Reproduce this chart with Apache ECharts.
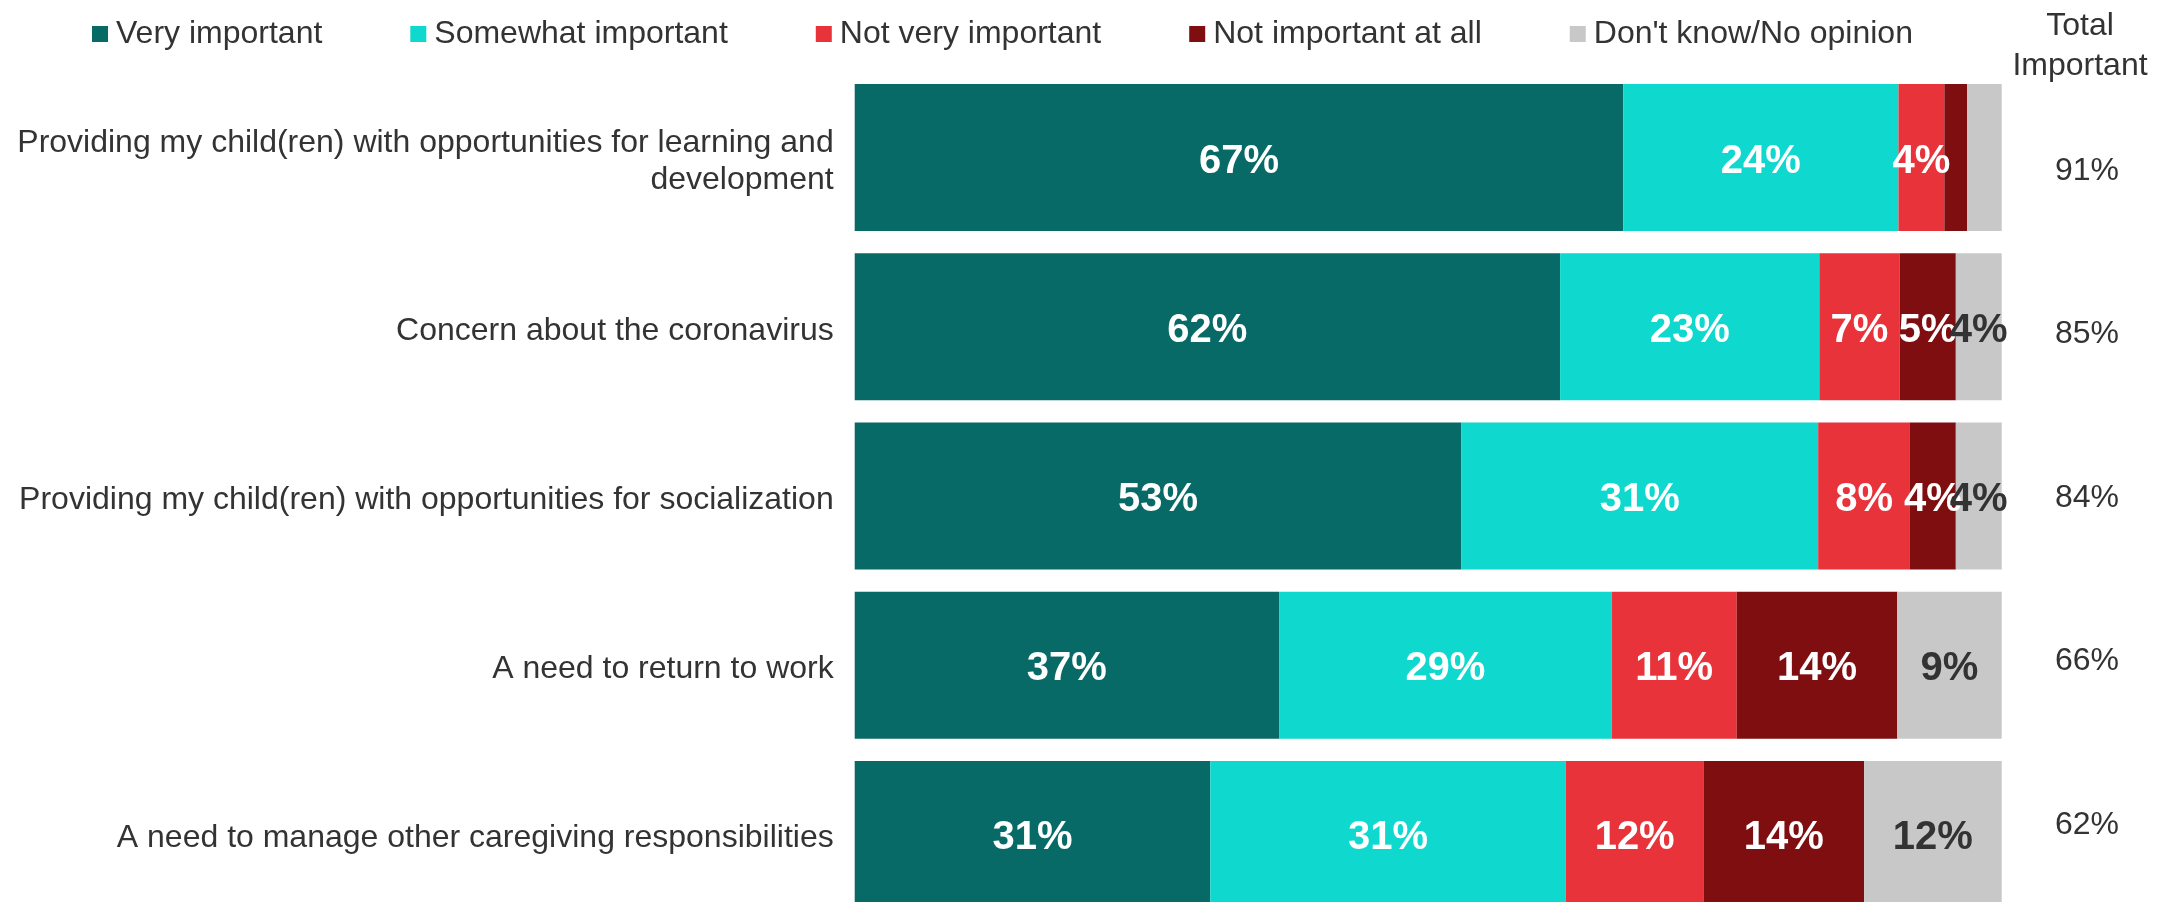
<!DOCTYPE html>
<html>
<head>
<meta charset="utf-8">
<script src="https://cdn.jsdelivr.net/npm/echarts@6/dist/echarts.min.js"></script>
<style>
  html, body { margin: 0; padding: 0; background: #ffffff; }
  #chart { width: 2176px; height: 902px; }
</style>
</head>
<body>
<div id="chart"></div>
<script>
// ---- Data ----
var categories = [
  "Providing my child(ren) with opportunities for learning and\ndevelopment",
  "Concern about the coronavirus",
  "Providing my child(ren) with opportunities for socialization",
  "A need to return to work",
  "A need to manage other caregiving responsibilities"
];
var seriesNames = ["Very important", "Somewhat important", "Not very important", "Not important at all", "Don't know/No opinion"];
var veryImportant     = [67.0, 61.5, 52.9, 37.0, 31.0];
var somewhatImportant = [24.0, 22.6, 31.1, 29.0, 31.0];
var notVeryImportant  = [4.0, 7.0, 8.0, 10.9, 12.0];
var notImportantAtAll = [2.0, 4.9, 4.0, 14.0, 14.0];
var dontKnow          = [3.0, 4.0, 4.0, 9.1, 12.0];
var totalImportant    = [91, 85, 84, 66, 62];
var totalHeader = "Total\nImportant";

// ---- Styling ----
var FONT = "'Liberation Sans', Arial, Helvetica, sans-serif";
var colors = ["#086a66", "#0fd8ce", "#e8333a", "#7f0e11", "#c8c8c8"];
var labelColors = ["#ffffff", "#ffffff", "#ffffff", "#ffffff", "#333333"];
var values = [veryImportant, somewhatImportant, notVeryImportant, notImportantAtAll, dontKnow];

var chart = echarts.init(document.getElementById('chart'), null, { renderer: 'canvas' });

var series = seriesNames.map(function (name, i) {
  return {
    name: name,
    type: 'bar',
    stack: 'total',
    xAxisIndex: 0,
    yAxisIndex: 0,
    barWidth: 147,
    data: values[i],
    itemStyle: { color: colors[i] },
    emphasis: { disabled: true },
    label: {
      show: true,
      position: 'inside',
      offset: [0, 4],
      color: labelColors[i],
      fontFamily: FONT,
      fontWeight: 'bold',
      fontSize: 40,
      formatter: function (p) {
        return p.value >= 3.5 ? Math.round(p.value) + '%' : '';
      }
    }
  };
});

series.push({
  type: 'scatter',
  xAxisIndex: 1,
  yAxisIndex: 1,
  symbolSize: 0,
  silent: true,
  itemStyle: { opacity: 1 },
  data: totalImportant.map(function (v, i) { return [0, i, v]; }),
  label: {
    show: true,
    position: 'inside',
    offset: [0, 3],
    color: '#333333',
    opacity: 1,
    fontFamily: FONT,
    fontSize: 32,
    formatter: function (p) { return p.value[2] + '%'; }
  }
});

var option = {
  backgroundColor: '#ffffff',
  animation: false,
  color: colors,
  textStyle: { fontFamily: FONT },
  legend: {
    data: seriesNames,
    left: 92,
    top: 18,
    padding: 0,
    icon: 'rect',
    itemWidth: 16,
    itemHeight: 16,
    itemGap: 88,
    selectedMode: false,
    textStyle: { fontFamily: FONT, fontSize: 32, color: '#333333', padding: [0, 0, 0, 3] }
  },
  graphic: [{
    type: 'text',
    x: 2080,
    y: 46,
    style: {
      text: totalHeader,
      fill: '#333333',
      font: '32px ' + FONT,
      fontSize: 32,
      fontFamily: FONT,
      lineHeight: 40,
      align: 'center',
      verticalAlign: 'middle'
    }
  }],
  grid: [
    { left: 854.7, width: 1147, top: 73, height: 846, containLabel: false, outerBoundsMode: 'none' },
    { left: 2046, width: 82, top: 86.25, height: 817.5, containLabel: false, outerBoundsMode: 'none' },
    { left: 854.7, width: 1147, top: 77, height: 846, containLabel: false, outerBoundsMode: 'none' }
  ],
  xAxis: [
    { type: 'value', gridIndex: 0, min: 0, max: 100, show: false },
    { type: 'value', gridIndex: 1, min: -1, max: 1, show: false },
    { type: 'value', gridIndex: 2, min: 0, max: 100, show: false }
  ],
  yAxis: [
    {
      type: 'category',
      gridIndex: 0,
      data: categories,
      inverse: true,
      show: false
    },
    {
      type: 'category',
      gridIndex: 1,
      data: categories,
      inverse: true,
      show: false
    },
    {
      type: 'category',
      gridIndex: 2,
      data: categories,
      inverse: true,
      axisLine: { show: false },
      axisTick: { show: false },
      splitLine: { show: false },
      axisLabel: {
        margin: 21,
        color: '#333333',
        fontFamily: FONT,
        fontSize: 32,
        lineHeight: 37,
        align: 'right'
      }
    }
  ],
  series: series
};

chart.setOption(option);
</script>
</body>
</html>
